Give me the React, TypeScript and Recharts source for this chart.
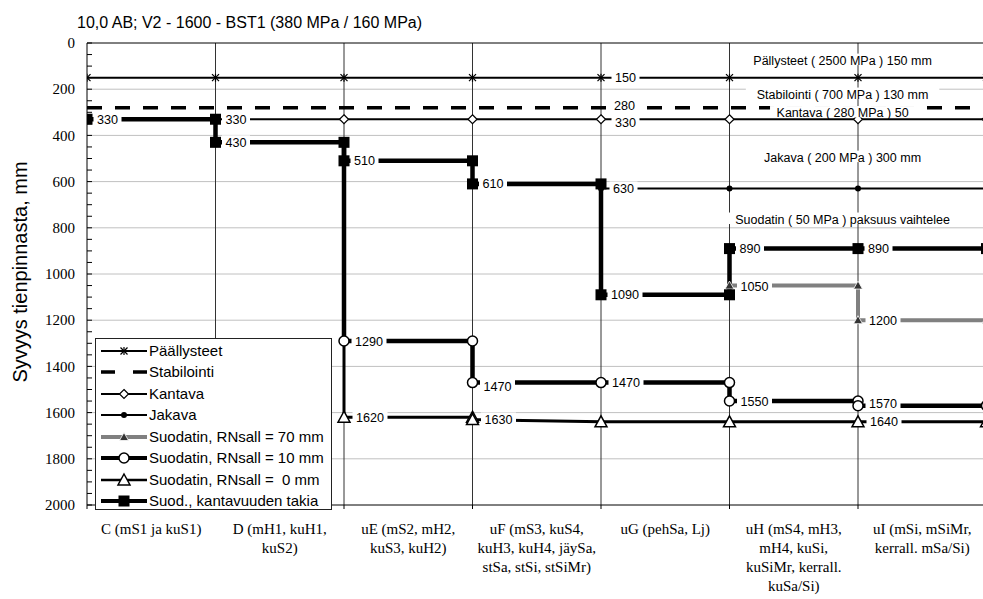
import React from "react";
import {
  LineChart,
  Line,
  XAxis,
  YAxis,
  CartesianGrid,
  ReferenceLine,
  LabelList,
  Legend,
  Customized,
} from "recharts";

// ---------------- data ----------------
const TITLE = "10,0 AB; V2 - 1600 - BST1 (380 MPa / 160 MPa)";
const Y_LABEL = "Syvyys tienpinnasta, mm";

const categoryLabels: string[][] = [
  ["C (mS1 ja kuS1)"],
  ["D (mH1, kuH1,", "kuS2)"],
  ["uE (mS2, mH2,", "kuS3, kuH2)"],
  ["uF (mS3, kuS4,", "kuH3, kuH4, jäySa,", "stSa, stSi, stSiMr)"],
  ["uG (pehSa, Lj)"],
  ["uH (mS4, mH3,", "mH4, kuSi,", "kuSiMr, kerrall.", "kuSa/Si)"],
  ["uI (mSi, mSiMr,", "kerrall. mSa/Si)"],
];
const categoryBounds = [0, 1, 2, 3, 4, 5, 6, 7];
const innerBounds = [1, 2, 3, 4, 5, 6];
const depthLabels = [0, 200, 400, 600, 800, 1000, 1200, 1400, 1600, 1800, 2000];
const depthMinorTicks = [
  0, 50, 100, 150, 200, 250, 300, 350, 400, 450, 500, 550, 600, 650, 700, 750,
  800, 850, 900, 950, 1000, 1050, 1100, 1150, 1200, 1250, 1300, 1350, 1400,
  1450, 1500, 1550, 1600, 1650, 1700, 1750, 1800, 1850, 1900, 1950, 2000,
];
const gridDepths = [200, 400, 600, 800, 1000, 1200, 1400, 1600, 1800];

type Pt = { x: number; y: number; lab?: boolean; dy?: number; m?: boolean };

const pallysteet: Pt[] = [
  { x: 0, y: 150 }, { x: 1, y: 150 }, { x: 2, y: 150 }, { x: 3, y: 150 },
  { x: 4, y: 150, lab: true }, { x: 5, y: 150 }, { x: 6, y: 150 }, { x: 7, y: 150 },
];
const stabilointi: Pt[] = [
  { x: 0, y: 280 }, { x: 4, y: 280, lab: true, dy: -2 }, { x: 7, y: 280 },
];
const kantava: Pt[] = [
  { x: 0, y: 330 }, { x: 1, y: 330 }, { x: 2, y: 330 }, { x: 3, y: 330 },
  { x: 4, y: 330, lab: true, dy: 3 }, { x: 5, y: 330 }, { x: 6, y: 330 }, { x: 7, y: 330 },
];
const jakava: Pt[] = [
  { x: 4, y: 630, lab: true }, { x: 5, y: 630 }, { x: 6, y: 630 }, { x: 7, y: 630 },
];
const suodatin70: Pt[] = [
  { x: 5, y: 1050, lab: true, dy: 1 }, { x: 6, y: 1050 },
  { x: 6, y: 1200, lab: true }, { x: 7, y: 1200 },
];
const suodatin10: Pt[] = [
  { x: 2, y: 430, m: false }, { x: 2, y: 1290, lab: true }, { x: 3, y: 1290 },
  { x: 3, y: 1470, lab: true, dy: 4 }, { x: 4, y: 1470, lab: true }, { x: 5, y: 1470 },
  { x: 5, y: 1550, lab: true }, { x: 6, y: 1550 }, { x: 6, y: 1570, lab: true, dy: -2 },
  { x: 7, y: 1570 },
];
const suodatin0: Pt[] = [
  { x: 2, y: 430, m: false }, { x: 2, y: 1620, lab: true }, { x: 3, y: 1620 },
  { x: 3, y: 1630, lab: true }, { x: 4, y: 1640 }, { x: 5, y: 1640 },
  { x: 6, y: 1640, lab: true }, { x: 7, y: 1640 },
];
const kantavuus: Pt[] = [
  { x: 0, y: 330, lab: true }, { x: 1, y: 330, lab: true }, { x: 1, y: 430, lab: true },
  { x: 2, y: 430 }, { x: 2, y: 510, lab: true }, { x: 3, y: 510 },
  { x: 3, y: 610, lab: true }, { x: 4, y: 610 }, { x: 4, y: 1090, lab: true },
  { x: 5, y: 1090 }, { x: 5, y: 890, lab: true }, { x: 6, y: 890, lab: true },
  { x: 7, y: 890 },
];

const annotations = [
  { x: 5.88, y: 74, text: "Pällysteet ( 2500 MPa ) 150 mm" },
  { x: 5.88, y: 221, text: "Stabilointi ( 700 MPa ) 130 mm" },
  { x: 5.88, y: 301, text: "Kantava ( 280 MPa ) 50" },
  { x: 5.88, y: 494, text: "Jakava ( 200 MPa ) 300 mm" },
  { x: 5.88, y: 762, text: "Suodatin ( 50 MPa ) paksuus vaihtelee" },
];

// ---------------- styling ----------------
const SANS = "'Liberation Sans', Arial, Helvetica, sans-serif";
const SERIF = "'Liberation Serif', 'Times New Roman', Times, serif";
const CHART_W = 1000;
const CHART_H = 599;
const PLOT_LEFT = 87;
const PLOT_RIGHT_MARGIN = 13.5;
const HALF_BAND = (CHART_W - PLOT_LEFT - PLOT_RIGHT_MARGIN) / 7 / 2;

type Kind = "star" | "diamond" | "dot" | "gtri" | "circle" | "tri" | "square" | "none";

function Marker({ kind, cx, cy }: { kind: Kind; cx: number; cy: number }) {
  switch (kind) {
    case "star":
      return (
        <g stroke="#000" strokeWidth={1.2}>
          <line x1={cx - 3.5} y1={cy - 3.5} x2={cx + 3.5} y2={cy + 3.5} />
          <line x1={cx - 3.5} y1={cy + 3.5} x2={cx + 3.5} y2={cy - 3.5} />
          <line x1={cx} y1={cy - 4} x2={cx} y2={cy + 4} />
        </g>
      );
    case "diamond":
      return (
        <path
          d={`M${cx},${cy - 4.5} L${cx + 4.5},${cy} L${cx},${cy + 4.5} L${cx - 4.5},${cy} Z`}
          fill="#fff"
          stroke="#000"
          strokeWidth={1.2}
        />
      );
    case "dot":
      return <circle cx={cx} cy={cy} r={3} fill="#000" />;
    case "gtri":
      return (
        <path
          d={`M${cx},${cy - 4.5} L${cx + 4.5},${cy + 3.5} L${cx - 4.5},${cy + 3.5} Z`}
          fill="#333"
          stroke="#fff"
          strokeWidth={0.8}
        />
      );
    case "circle":
      return <circle cx={cx} cy={cy} r={5} fill="#fff" stroke="#000" strokeWidth={1.5} />;
    case "tri":
      return (
        <path
          d={`M${cx},${cy - 6} L${cx + 6},${cy + 5} L${cx - 6},${cy + 5} Z`}
          fill="#fff"
          stroke="#000"
          strokeWidth={1.5}
        />
      );
    case "square":
      return <rect x={cx - 5.5} y={cy - 5.5} width={11} height={11} fill="#000" />;
    default:
      return null;
  }
}

const makeDot = (pts: Pt[], kind: Kind) => (p: any) => {
  const pt = pts[p.index];
  if (!pt || pt.m === false || kind === "none" || p.cx == null) return <g key={`d${p.index}`} />;
  return (
    <g key={`d${p.index}`}>
      <Marker kind={kind} cx={p.cx} cy={p.cy} />
    </g>
  );
};

const makeLabel = (pts: Pt[], gap: number) => (p: any) => {
  const pt = pts[p.index];
  if (!pt || !pt.lab) return <g />;
  const px = p.viewBox?.x ?? p.x;
  const py = p.viewBox?.y ?? p.y;
  const txt = String(pt.y);
  const w = txt.length * 7.0;
  const tx = px + gap;
  const ty = py + (pt.dy || 0);
  return (
    <g>
      <rect x={tx - 3.5} y={ty - 7} width={w + 7} height={14} fill="#fff" />
      <text x={tx} y={ty} dy="0.36em" fontSize={12.6} fontFamily={SANS} fill="#000">
        {txt}
      </text>
    </g>
  );
};

const annotationLabel = (p: any) => {
  const a = annotations[p.index];
  if (!a) return <g />;
  const px = p.viewBox?.x ?? p.x;
  const py = p.viewBox?.y ?? p.y;
  const w = a.text.length * 6.05;
  return (
    <g>
      <rect x={px - w / 2 - 6} y={py - 6.5} width={w + 12} height={11.5} fill="#fff" />
      <text x={px} y={py} dy="0.36em" textAnchor="middle" fontSize={12.5} fontFamily={SANS} fill="#000">
        {a.text}
      </text>
    </g>
  );
};

const XTick = (props: any) => {
  const { x, y, payload } = props;
  const idx = payload?.value;
  const lines = categoryLabels[idx];
  if (!lines) return <g />;
  const cx = x + HALF_BAND;
  return (
    <text x={cx} y={y} textAnchor="middle" fontSize={15} fontFamily={SERIF} fill="#000">
      {lines.map((l, i) => (
        <tspan key={i} x={cx} dy={i === 0 ? "0.71em" : 19}>
          {l}
        </tspan>
      ))}
    </text>
  );
};

const YTick = (props: any) => {
  const { x, y, payload } = props;
  const v = payload?.value;
  return (
    <g>
      <line x1={PLOT_LEFT} x2={PLOT_LEFT + 5} y1={y} y2={y} stroke="#000" strokeWidth={1} />
      {depthLabels.includes(v) && (
        <text x={x} y={y} dy="0.35em" textAnchor="end" fontSize={15} fontFamily={SERIF} fill="#000">
          {v}
        </text>
      )}
    </g>
  );
};

const legendItems: { name: string; kind: Kind; stroke: string; w: number; dash?: string }[] = [
  { name: "Päällysteet", kind: "star", stroke: "#000", w: 2 },
  { name: "Stabilointi", kind: "none", stroke: "#000", w: 3.5, dash: "14 18" },
  { name: "Kantava", kind: "diamond", stroke: "#000", w: 2 },
  { name: "Jakava", kind: "dot", stroke: "#000", w: 2 },
  { name: "Suodatin, RNsall = 70 mm", kind: "gtri", stroke: "#808080", w: 4 },
  { name: "Suodatin, RNsall = 10 mm", kind: "circle", stroke: "#000", w: 4 },
  { name: "Suodatin, RNsall =  0 mm", kind: "tri", stroke: "#000", w: 2.5 },
  { name: "Suod., kantavuuden takia", kind: "square", stroke: "#000", w: 4 },
];

const renderLegend = () => (
  <div
    style={{
      width: 237,
      height: 172,
      boxSizing: "border-box",
      border: "1px solid #222",
      background: "#fff",
      padding: "1px 0 0 5px",
      fontFamily: SANS,
      fontSize: 15,
      color: "#000",
      textAlign: "left",
    }}
  >
    {legendItems.map((it) => (
      <div key={it.name} style={{ height: 21.5, display: "flex", alignItems: "center" }}>
        <svg width={48} height={16} style={{ display: "block", flex: "none" }}>
          <line
            x1={0}
            x2={46}
            y1={8}
            y2={8}
            stroke={it.stroke}
            strokeWidth={it.w}
            strokeDasharray={it.dash}
          />
          <Marker kind={it.kind} cx={23} cy={8} />
        </svg>
        <span style={{ whiteSpace: "pre", lineHeight: "16px" }}>{it.name}</span>
      </div>
    ))}
  </div>
);

const TextLayer = () => (
  <g>
    <text x={77} y={22} dy="0.35em" fontSize={16} fontFamily={SANS} fill="#000">
      {TITLE}
    </text>
    <text
      x={20}
      y={272}
      transform="rotate(-90 20 272)"
      textAnchor="middle"
      dy="0.35em"
      fontSize={20}
      fontFamily={SANS}
      fill="#000"
    >
      {Y_LABEL}
    </text>
  </g>
);

export default function App() {
  return (
    <div
      style={{
        position: "absolute",
        left: 0,
        top: 0,
        width: 983,
        height: 599,
        overflow: "hidden",
        background: "#fff",
      }}
    >
      <LineChart
        width={CHART_W}
        height={CHART_H}
        margin={{ top: 43, right: PLOT_RIGHT_MARGIN, bottom: 0, left: 0 }}
      >
        <CartesianGrid horizontal vertical={false} stroke="#c0c0c0" horizontalValues={gridDepths} />
        <CartesianGrid horizontal={false} vertical stroke="#333" verticalValues={innerBounds} />
        <XAxis
          type="number"
          dataKey="x"
          domain={[0, 7]}
          ticks={categoryBounds}
          interval={0}
          height={94}
          tickSize={4}
          tickMargin={14}
          tick={<XTick />}
          axisLine={{ stroke: "#000" }}
          tickLine={{ stroke: "#000" }}
          allowDataOverflow
        />
        <YAxis
          type="number"
          dataKey="y"
          domain={[0, 2000]}
          reversed
          ticks={depthMinorTicks}
          interval={0}
          width={PLOT_LEFT}
          tickLine={false}
          tickSize={0}
          tickMargin={12}
          tick={<YTick />}
          axisLine={{ stroke: "#000" }}
          allowDataOverflow
        />
        <ReferenceLine y={0} stroke="#000" strokeWidth={1} />

        <Line data={pallysteet} dataKey="y" stroke="#000" strokeWidth={2} dot={makeDot(pallysteet, "star")} activeDot={false} isAnimationActive={false}>
          <LabelList dataKey="y" content={makeLabel(pallysteet, 14)} />
        </Line>
        <Line data={stabilointi} dataKey="y" stroke="#000" strokeWidth={3.5} strokeDasharray="15 13" dot={false} activeDot={false} isAnimationActive={false}>
          <LabelList dataKey="y" content={makeLabel(stabilointi, 13)} />
        </Line>
        <Line data={kantava} dataKey="y" stroke="#000" strokeWidth={2} dot={makeDot(kantava, "diamond")} activeDot={false} isAnimationActive={false}>
          <LabelList dataKey="y" content={makeLabel(kantava, 14)} />
        </Line>
        <Line data={jakava} dataKey="y" stroke="#000" strokeWidth={2} dot={makeDot(jakava, "dot")} activeDot={false} isAnimationActive={false}>
          <LabelList dataKey="y" content={makeLabel(jakava, 12)} />
        </Line>
        <Line data={suodatin70} dataKey="y" stroke="#808080" strokeWidth={4} dot={makeDot(suodatin70, "gtri")} activeDot={false} isAnimationActive={false}>
          <LabelList dataKey="y" content={makeLabel(suodatin70, 11)} />
        </Line>
        <Line data={suodatin10} dataKey="y" stroke="#000" strokeWidth={4.5} dot={makeDot(suodatin10, "circle")} activeDot={false} isAnimationActive={false}>
          <LabelList dataKey="y" content={makeLabel(suodatin10, 11)} />
        </Line>
        <Line data={suodatin0} dataKey="y" stroke="#000" strokeWidth={3} dot={makeDot(suodatin0, "tri")} activeDot={false} isAnimationActive={false}>
          <LabelList dataKey="y" content={makeLabel(suodatin0, 12)} />
        </Line>
        <Line data={kantavuus} dataKey="y" stroke="#000" strokeWidth={4.5} dot={makeDot(kantavuus, "square")} activeDot={false} isAnimationActive={false}>
          <LabelList dataKey="y" content={makeLabel(kantavuus, 10)} />
        </Line>
        <Line data={annotations} dataKey="y" stroke="none" dot={false} activeDot={false} legendType="none" isAnimationActive={false}>
          <LabelList dataKey="y" content={annotationLabel} />
        </Line>

        <Legend
          layout="horizontal"
          verticalAlign="middle"
          align="center"
          content={renderLegend}
          wrapperStyle={{ left: 95, top: 338, width: 237, height: 172 }}
        />
        <Customized component={TextLayer} />
      </LineChart>
    </div>
  );
}
